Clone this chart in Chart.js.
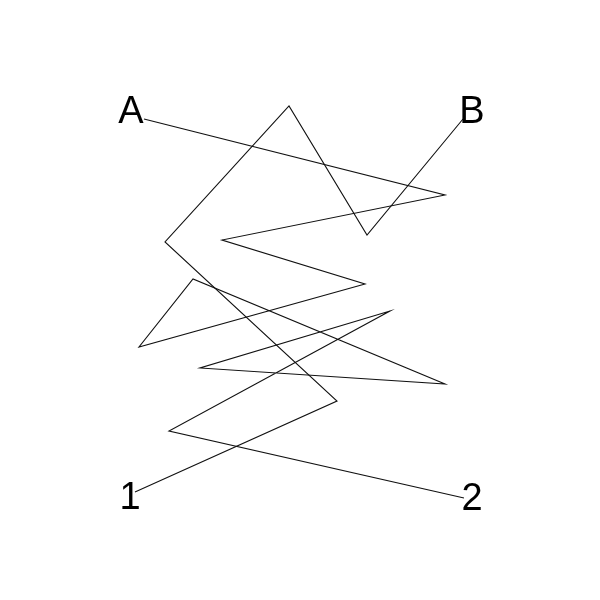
<!DOCTYPE html>
<html>
<head>
<meta charset="utf-8">
<script src="https://cdn.jsdelivr.net/npm/chart.js@4/dist/chart.umd.min.js"></script>
<style>
  html, body { margin: 0; padding: 0; background: #fff; }
  #wrap { width: 600px; height: 600px; }
</style>
</head>
<body>
<div id="wrap"><canvas id="maze"></canvas></div>
<script>
/* Chemin depuis A (se termine en 2) */
var pathAx = [144, 445, 222, 365, 139, 193, 445, 200, 390, 169, 464];
var pathAy = [119, 195, 240, 284, 347, 279, 384, 368, 311, 431, 498];

/* Chemin depuis B (se termine en 1) */
var pathBx = [463, 367, 289, 165, 337, 135];
var pathBy = [119, 235, 106, 242, 401, 492];

/* Étiquettes des extrémités */
var labelText = ['A', 'B', '1', '2'];
var labelX = [131, 472, 130, 472];
var labelY = [113, 113, 499, 500];

function toPoints(xs, ys) {
    return xs.map(function (x, i) { return { x: x, y: ys[i] }; });
}

var endLabels = {
    id: 'endLabels',
    afterDatasetsDraw: function (chart) {
        var ctx = chart.ctx, sx = chart.scales.x, sy = chart.scales.y;
        ctx.save();
        ctx.fillStyle = '#000';
        ctx.font = '38px "Liberation Sans", Arial, sans-serif';
        ctx.textAlign = 'center';
        ctx.textBaseline = 'middle';
        labelText.forEach(function (t, i) {
            ctx.fillText(t, sx.getPixelForValue(labelX[i]), sy.getPixelForValue(labelY[i]));
        });
        ctx.restore();
    }
};

new Chart(document.getElementById('maze').getContext('2d'), {
    type: 'scatter',
    data: {
        datasets: [{
            data: toPoints(pathAx, pathAy),
            showLine: true,
            borderColor: '#111',
            borderWidth: 1.1,
            pointRadius: 0,
            tension: 0
        }, {
            data: toPoints(pathBx, pathBy),
            showLine: true,
            borderColor: '#111',
            borderWidth: 1.1,
            pointRadius: 0,
            tension: 0
        }]
    },
    options: {
        responsive: true,
        maintainAspectRatio: false,
        animation: false,
        layout: { padding: 0 },
        plugins: { legend: { display: false }, tooltip: { enabled: false } },
        scales: {
            x: { type: 'linear', min: 0, max: 600, display: false },
            y: { type: 'linear', min: 0, max: 600, reverse: true, display: false }
        }
    },
    plugins: [endLabels]
});
</script>
</body>
</html>
